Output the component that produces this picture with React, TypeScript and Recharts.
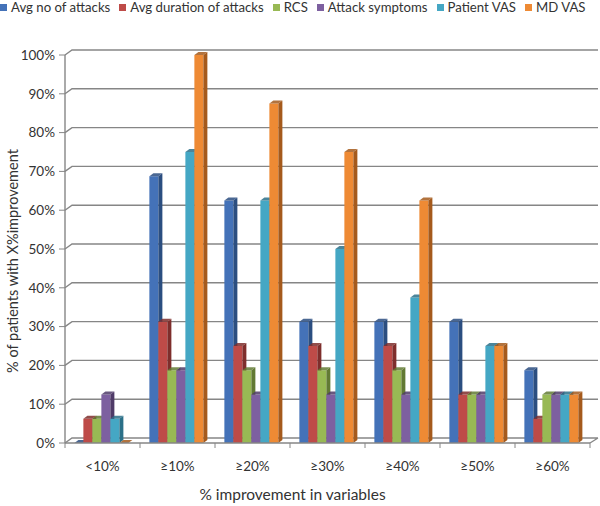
import React from 'react';
import { BarChart, Bar, XAxis, YAxis, CartesianGrid, Legend } from 'recharts';

const categories = ['<10%', '≥10%', '≥20%', '≥30%', '≥40%', '≥50%', '≥60%'];
const avgAttacks = [0, 68.75, 62.5, 31.25, 31.25, 31.25, 18.75];
const avgDuration = [6.25, 31.25, 25, 25, 25, 12.5, 6.25];
const rcs = [6.25, 18.75, 18.75, 18.75, 18.75, 12.5, 12.5];
const symptoms = [12.5, 18.75, 12.5, 12.5, 12.5, 12.5, 12.5];
const patientVas = [6.25, 75, 62.5, 50, 37.5, 25, 12.5];
const mdVas = [0, 100, 87.5, 75, 62.5, 25, 12.5];
const yTicks = [0, 10, 20, 30, 40, 50, 60, 70, 80, 90, 100];

const seriesNames = ['Avg no of attacks', 'Avg duration of attacks', 'RCS', 'Attack symptoms', 'Patient VAS', 'MD VAS'];
const seriesValues = [avgAttacks, avgDuration, rcs, symptoms, patientVas, mdVas];
const colors = ['#4472B8', '#BE4B48', '#98B954', '#7D60A0', '#45A7C4', '#EE8A34'];
const sideColors = ['#2B4E80', '#7E2E2C', '#627A34', '#4F3B68', '#2B7088', '#A55A1C'];

const data = categories.map((c, i) => {
  const row: any = { cat: c };
  seriesValues.forEach((s, k) => { row['s' + k] = s[i]; });
  return row;
});

const FONT = 'Lato, "Open Sans", sans-serif';
const DX = 7;
const DY = 5;

const makeShape = (k: number) => (props: any) => {
  const { x, y, width, height } = props;
  if (x == null || y == null) return null;
  const w = width;
  const h = Math.max(0, height);
  const front = colors[k];
  const side = sideColors[k];
  const d = 4;
  const up = 3;
  return (
    <g>
      <rect x={x} y={y} width={w} height={h} fill={front} />
      <polygon points={`${x + w},${y} ${x + w + d},${y - up} ${x + w + d},${y + h - up} ${x + w},${y + h}`} fill={side} />
      <polygon points={`${x},${y} ${x + d},${y - up} ${x + w + d},${y - up} ${x + w},${y}`} fill={side} opacity={0.85} />
    </g>
  );
};

const GridLine = (p: any) => {
  const { x1, x2, y1, index } = p;
  let d = `M${x1},${y1} L${x1 + DX},${y1 - DY} L${x2 + DX + 1},${y1 - DY}`;
  if (index === 0) d += ` M${x2},${y1} L${x2 + DX + 1},${y1 - DY}`;
  return <path key={'g' + index + '-' + y1} d={d} stroke="#868686" strokeWidth={1.4} fill="none" />;
};

const XTick = (props: any) => {
  const { x, y, payload, index } = props;
  const off = payload && payload.offset != null ? payload.offset : 37.5;
  return (
    <g>
      <line x1={x - off} y1={y} x2={x - off} y2={y + 5} stroke="#868686" />
      {index === categories.length - 1 && (
        <line x1={x + off} y1={y} x2={x + off} y2={y + 5} stroke="#868686" />
      )}
      <text x={x} y={y + 28} textAnchor="middle" fontSize={13.5} fill="#333" fontFamily={FONT}>{payload.value}</text>
    </g>
  );
};

const LegendContent = () => (
  <div style={{ display: 'flex', alignItems: 'center', fontFamily: FONT, fontSize: 13.2, color: '#333', whiteSpace: 'nowrap', lineHeight: '15px' }}>
    {seriesNames.map((n, k) => (
      <div key={n} style={{ display: 'flex', alignItems: 'center', marginRight: 9 }}>
        <span style={{ display: 'inline-block', width: 7, height: 7, background: colors[k], marginRight: 4 }} />
        <span>{n}</span>
      </div>
    ))}
  </div>
);

export default function App() {
  return (
    <div style={{ position: 'absolute', left: 0, top: 0, width: 600, height: 506, background: '#fff' }}>
      <BarChart width={600} height={506} data={data} margin={{ top: 55, right: 10, bottom: 0, left: 0 }} barCategoryGap="12.5%" barGap={0}>
        <CartesianGrid vertical={false} horizontal={GridLine as any} />
        <Legend layout="horizontal" verticalAlign="middle" align="center" content={LegendContent as any} wrapperStyle={{ top: 0, left: 0, width: 600 }} />
        <XAxis dataKey="cat" height={63} tickLine={false} tickSize={0} tickMargin={0} axisLine={{ stroke: '#868686', strokeWidth: 1.4 }} tick={XTick as any} interval={0}
          label={{ value: '% improvement in variables', position: 'insideBottom', dx: -35, offset: 6, fontSize: 15.5, fill: '#333', fontFamily: FONT }} />
        <YAxis width={65} domain={[0, 100]} ticks={yTicks} interval={0} tickFormatter={(v: number) => `${v}%`} tickSize={6} tickMargin={4}
          axisLine={{ stroke: '#868686', strokeWidth: 1.4 }} tickLine={{ stroke: '#868686' }} tick={{ fontSize: 13.5, fill: '#333', fontFamily: FONT }}
          label={{ value: '% of patients with  X%improvement', angle: -90, position: 'insideLeft', dx: 8, dy: 12, style: { textAnchor: 'middle', whiteSpace: 'pre' }, fontSize: 14.5, fill: '#333', fontFamily: FONT }} />
        {seriesNames.map((n, k) => (
          <Bar key={n} dataKey={'s' + k} name={n} fill={colors[k]} isAnimationActive={false} shape={makeShape(k)} />
        ))}
      </BarChart>
    </div>
  );
}
